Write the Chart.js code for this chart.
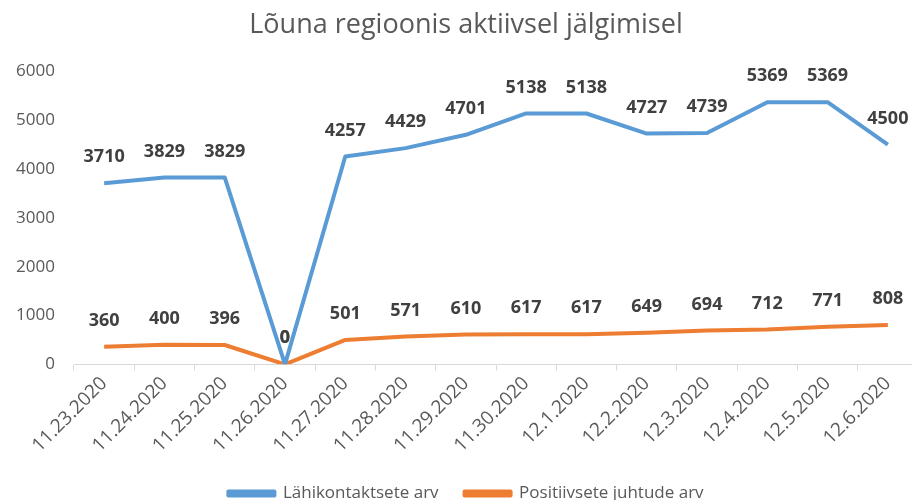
<!DOCTYPE html>
<html>
<head>
<meta charset="utf-8">
<script src="https://cdn.jsdelivr.net/npm/chart.js@4/dist/chart.umd.min.js"></script>
<style>
  html, body { margin: 0; padding: 0; background: #fff; overflow: hidden; }
  #wrap { width: 918px; height: 512px; }
</style>
</head>
<body>
<div id="wrap"><canvas id="chart"></canvas></div>
<script>
// Andmed
const dates = ["11.23.2020", "11.24.2020", "11.25.2020", "11.26.2020", "11.27.2020", "11.28.2020", "11.29.2020",
    "11.30.2020", "12.1.2020", "12.2.2020", "12.3.2020", "12.4.2020", "12.5.2020", "12.6.2020"];
const contacts = [3710, 3829, 3829, 0, 4257, 4429, 4701, 5138, 5138, 4727, 4739, 5369, 5369, 4500];
const positives = [360, 400, 396, 0, 501, 571, 610, 617, 617, 649, 694, 712, 771, 808];

const textColor = "#595959";
const fontFamily = "'Open Sans', sans-serif";

// väärtuste sildid punktide kohal
const valueLabels = {
    id: "valueLabels",
    afterDatasetsDraw(chart) {
        const ctx = chart.ctx;
        ctx.save();
        ctx.font = "bold 18px " + fontFamily;
        ctx.fillStyle = "#404040";
        ctx.textAlign = "center";
        ctx.textBaseline = "middle";
        chart.data.datasets.forEach((ds, i) => {
            const meta = chart.getDatasetMeta(i);
            meta.data.forEach((pt, j) => {
                ctx.fillText(ds.data[j], pt.x, pt.y - 26);
            });
        });
        ctx.restore();
    }
};

new Chart(document.getElementById("chart"), {
    type: "line",
    data: {
        labels: dates,
        datasets: [{
            label: "Lähikontaktsete arv",
            data: contacts,
            borderColor: "#5B9BD5",
            backgroundColor: "#5B9BD5",
            borderWidth: 4,
            pointRadius: 0,
            borderJoinStyle: "round",
            fill: false
        }, {
            label: "Positiivsete juhtude arv",
            data: positives,
            borderColor: "#ED7D31",
            backgroundColor: "#ED7D31",
            borderWidth: 4,
            pointRadius: 0,
            borderJoinStyle: "round",
            fill: false
        }]
    },
    options: {
        responsive: true,
        maintainAspectRatio: false,
        animation: false,
        layout: { padding: { left: 14, right: 0, top: 0, bottom: 0 } },
        plugins: {
            title: {
                display: true,
                text: "Lõuna regioonis aktiivsel jälgimisel",
                color: textColor,
                font: { family: fontFamily, size: 27, weight: "normal" },
                padding: { top: 9, bottom: 30 }
            },
            legend: {
                position: "bottom",
                labels: {
                    color: textColor,
                    font: { family: fontFamily, size: 17 },
                    boxWidth: 46,
                    boxHeight: 4,
                    padding: 26
                }
            },
            tooltip: { enabled: false }
        },
        scales: {
            x: {
                offset: true,
                grid: { display: true, drawOnChartArea: false, offset: true, tickLength: 6, color: "#d9d9d9" },
                border: { display: true, color: "#d9d9d9", width: 1 },
                ticks: {
                    color: textColor,
                    font: { family: fontFamily, size: 19 },
                    autoSkip: false,
                    maxRotation: 45,
                    minRotation: 45,
                    padding: 2
                },
                // pööratud sildid ei tohi vasakut serva nihutada
                afterFit: s => { s.paddingLeft = 0; s.paddingRight = 0; }
            },
            y: {
                min: 0,
                max: 6000,
                grid: { display: false, drawTicks: false },
                border: { display: false },
                ticks: {
                    stepSize: 1000,
                    color: textColor,
                    font: { family: fontFamily, size: 17 },
                    padding: 19,
                    callback: v => String(v)
                },
                afterFit: s => { s.width = 60; }
            }
        }
    },
    plugins: [valueLabels]
});
</script>
</body>
</html>
